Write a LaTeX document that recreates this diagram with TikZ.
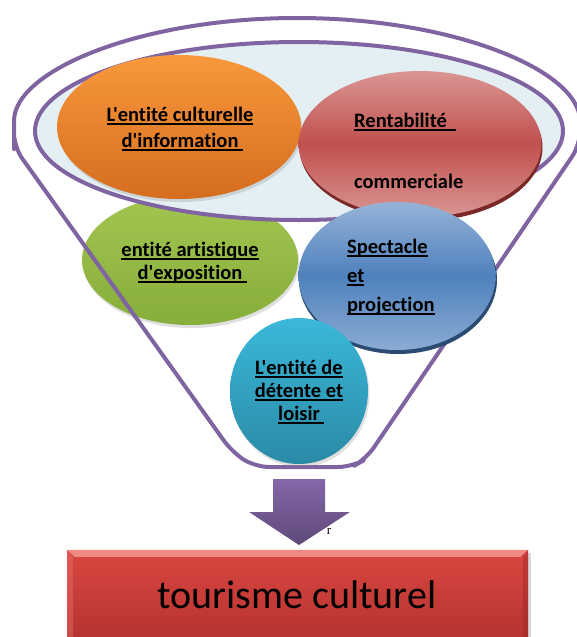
\documentclass[tikz,border=0pt]{standalone}
\usepackage{fontspec}
\setmainfont{Carlito}[Ligatures={TeXOff,CommonOff}]
\newfontfamily\stray{Liberation Serif}
\usetikzlibrary{shapes.geometric,shadows}

\definecolor{entonnoir}{HTML}{8064A2}
\definecolor{fondcoupe}{HTML}{E4EFF4}
\definecolor{orangeA}{HTML}{F8983C}
\definecolor{orangeB}{HTML}{D56D1E}
\definecolor{rougeA}{HTML}{D99694}
\definecolor{rougeB}{HTML}{C0504D}
\definecolor{rougeC}{HTML}{7A2826}
\definecolor{vertA}{HTML}{A2C650}
\definecolor{vertB}{HTML}{87AD3A}
\definecolor{bleuA}{HTML}{95B3D7}
\definecolor{bleuB}{HTML}{4F81BD}
\definecolor{bleuC}{HTML}{2B4B73}
\definecolor{turqA}{HTML}{3BB8DA}
\definecolor{turqB}{HTML}{2A8AA6}
\definecolor{flecheA}{HTML}{8468A8}
\definecolor{flecheB}{HTML}{5F497A}
\definecolor{caseA}{HTML}{DA4641}
\definecolor{caseB}{HTML}{B3322E}
\definecolor{caseC}{HTML}{F08A85}
\definecolor{caseD}{HTML}{8E2522}

\newlength\ulwd
\newcommand\ulin[1]{\settowidth\ulwd{#1}\rlap{\rule[-3.5pt]{\ulwd}{1.2pt}}#1}

\tikzset{
  bulle/.style={ellipse,inner sep=0pt},
  ombre/.style={drop shadow={opacity=.25,shadow xshift=1.5pt,shadow yshift=-3pt}},
  etiq/.style={font=\bfseries\fontsize{20.5}{23}\selectfont,inner sep=0pt,anchor=base},
  contour/.style={draw=entonnoir,line width=4pt,line join=round},
}

\begin{document}
\begin{tikzpicture}[x=1pt,y=-1pt]
        \useasboundingbox[fill=white] (0,0) rectangle (577,637);
        \node[bulle,ombre,minimum width=216pt,minimum height=130pt,top color=vertA,bottom color=vertB] (artistique) at (190,260) {};
        \draw[contour,rounded corners=14pt] (14,135) arc[start angle=180,end angle=0,x radius=283pt,y radius=117pt]
            -- (580,145) -- (366,459) -- (352,467) -- (255,467) -- (232,452) -- (14,147) -- cycle;
        \draw[contour,fill=fondcoupe] (299,131) ellipse[x radius=264pt,y radius=89pt];
        \node[bulle,ombre,minimum width=244pt,minimum height=144pt,top color=orangeA,bottom color=orangeB] (culturelle) at (179,127) {};
        \node[bulle,fill=rougeC,minimum width=243pt,minimum height=147pt] (rentabiliteBord) at (421,147.5) {};
        \node[bulle,minimum width=243pt,minimum height=146pt,top color=rougeA,bottom color=rougeA,middle color=rougeB] (rentabilite) at (420,144) {};
        \node[bulle,fill=bleuC,minimum width=198pt,minimum height=149pt] (spectacleBord) at (398,279.5) {};
        \node[bulle,minimum width=197pt,minimum height=148pt,top color=bleuA,bottom color=bleuA!85!bleuB,middle color=bleuB] (spectacle) at (397,276) {};
        \node[bulle,ombre,minimum width=138pt,minimum height=146pt,top color=turqA,bottom color=turqB] (detente) at (299,391) {};
        \node[etiq,align=center] (txtCulturelle) at (180,147) {\ulin{L'entité culturelle}\\[3pt]\ulin{d'information\ }};
        \node[etiq,align=left,anchor=base west] (txtRentabilite) at (354,188) {\ulin{Rentabilité\ \ }\\[38pt]commerciale};
        \node[etiq,align=center] (txtArtistique) at (190,279) {\ulin{entité artistique}\\\ulin{d'exposition\ }};
        \node[etiq,align=left,anchor=base west] (txtSpectacle) at (347,311) {\ulin{Spectacle}\\[6pt]\ulin{et}\\[6pt]\ulin{projection}};
        \node[etiq,align=center] (txtDetente) at (299,420) {\ulin{L'entité de}\\\ulin{détente et}\\\ulin{loisir\ }};
        \node[font=\stray\fontsize{13}{13}\selectfont,inner sep=0pt,anchor=base] (reste) at (329,534) {r};
        \shade[top color=flecheA,bottom color=flecheB] (273,479) -- (325,479) -- (325,512) -- (350,512) -- (299,545) -- (249,512) -- (273,512) -- cycle;
        \fill[black!15] (528,553) rectangle (531,645);
        \node[rectangle,minimum width=461pt,minimum height=95pt,inner sep=0pt,top color=caseA,bottom color=caseB] (tourisme) at (297.5,597.5) {};
        \fill[caseC] (tourisme.north west) -- (tourisme.north east) -- ([xshift=-8pt,yshift=-7pt]tourisme.north east) -- ([xshift=8pt,yshift=-7pt]tourisme.north west) -- cycle;
        \fill[caseD,opacity=.35] (tourisme.north east) -- ([xshift=-5pt,yshift=-7pt]tourisme.north east) -- ([xshift=-5pt]tourisme.south east) -- (tourisme.south east) -- cycle;
        \fill[caseC,opacity=.3] (tourisme.north west) -- ([xshift=6pt,yshift=-7pt]tourisme.north west) -- ([xshift=6pt]tourisme.south west) -- (tourisme.south west) -- cycle;
        \node[font=\fontsize{40}{48}\selectfont,inner sep=0pt,anchor=base] (txtTourisme) at (297,608) {tourisme culturel};
\end{tikzpicture}
\end{document}
